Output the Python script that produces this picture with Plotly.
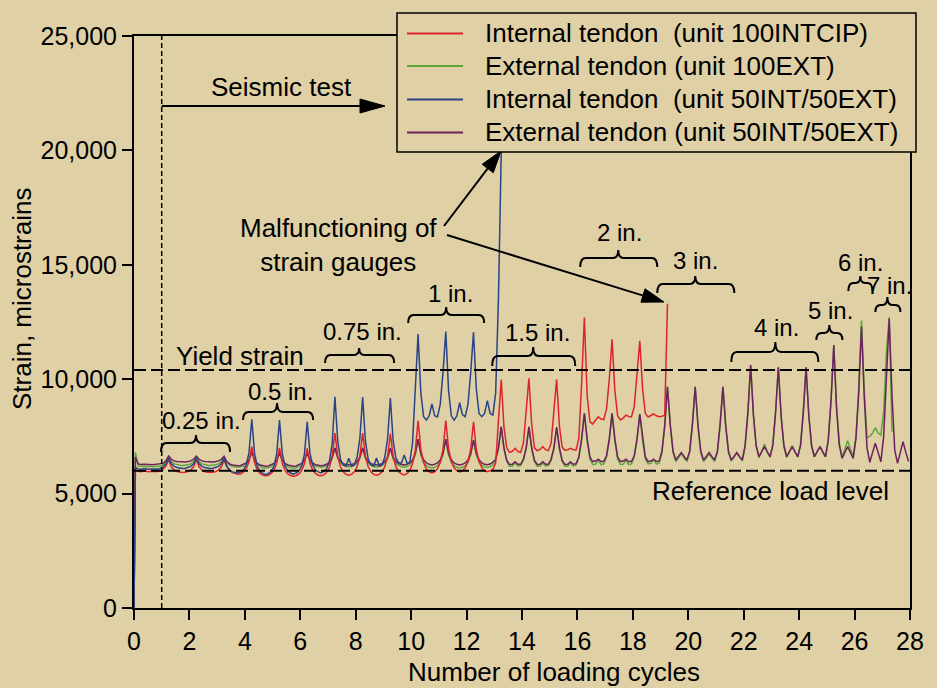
import math
import plotly.graph_objects as go

# Sample phases inside each loading cycle (peak of each cycle at .25, reverse bump at .75)
PHASES = [0.05, 0.15, 0.25, 0.35, 0.45, 0.55, 0.65, 0.75, 0.85, 0.95]

# Strain readings (microstrains), one row per loading cycle
red_strain = [  # internal tendon, unit 100INTCIP
    [6050, 5980, 5960, 5990, 5970, 5950, 5980, 5960, 5970, 5990],
    [6070, 6200, 6470, 6170, 6030, 5960, 5930, 5920, 5930, 5960],
    [6030, 6170, 6480, 6170, 6030, 5960, 5930, 5920, 5930, 5960],
    [6030, 6160, 6460, 6180, 6010, 5920, 5870, 5850, 5870, 5950],
    [6090, 6390, 7050, 6350, 6030, 5880, 5800, 5780, 5800, 5880],
    [6020, 6330, 7000, 6320, 6010, 5860, 5790, 5760, 5780, 5860],
    [6000, 6310, 6980, 6320, 6020, 5880, 5800, 5780, 5820, 5930],
    [6150, 6620, 7650, 6630, 6170, 5950, 5840, 5800, 5840, 5950],
    [6170, 6630, 7650, 6630, 6170, 5950, 5840, 5800, 5840, 5950],
    [6170, 6630, 7620, 6630, 6180, 5960, 5860, 5820, 5870, 6010],
    [6290, 6890, 8190, 6930, 6360, 6080, 5950, 5900, 5950, 6080],
    [6360, 6930, 8190, 6960, 6400, 6130, 6000, 5950, 5990, 6130],
    [6390, 6940, 8140, 6940, 6400, 6130, 6000, 5960, 6000, 6050],
    [6350, 8300, 9990, 7900, 7000, 6800, 6850, 6980, 6850, 6800],
    [7200, 8600, 10040, 8000, 7000, 6870, 6930, 7050, 6920, 6880],
    [7200, 8600, 9990, 7950, 7020, 6900, 6920, 6980, 6920, 6900],
    [7400, 9800, 12700, 9300, 8150, 8040, 8200, 8360, 8260, 8230],
    [8700, 10000, 11740, 9500, 8400, 8220, 8300, 8430, 8370, 8350],
    [8800, 10100, 11680, 9600, 8500, 8350, 8400, 8480, 8400, 8360],
    [8380, 8430, 13300],
]

blue_strain = [  # internal tendon, unit 50INT/50EXT
    [6150, 6080, 6060, 6090, 6070, 6060, 6080, 6070, 6080, 6100],
    [6170, 6290, 6550, 6300, 6190, 6140, 6110, 6100, 6110, 6140],
    [6190, 6300, 6550, 6300, 6190, 6140, 6110, 6100, 6110, 6140],
    [6190, 6300, 6540, 6190, 6030, 5950, 5910, 5900, 5950, 6040],
    [6250, 6790, 8250, 6750, 6190, 5980, 5880, 5830, 5880, 5970],
    [6190, 6740, 8215, 6750, 6200, 5990, 5900, 5850, 5900, 5990],
    [6190, 6720, 8140, 6750, 6240, 6030, 5950, 5900, 5970, 6100],
    [6400, 7170, 9230, 7300, 6500, 6250, 6200, 6550, 6200, 6250],
    [6600, 7400, 9220, 7300, 6500, 6250, 6200, 6560, 6200, 6250],
    [6600, 7400, 9180, 7300, 6550, 6350, 6330, 6690, 6340, 6360],
    [7200, 9800, 11970, 9400, 8360, 8215, 8400, 8915, 8400, 8350],
    [8900, 10300, 12080, 9500, 8400, 8215, 8400, 8970, 8450, 8360],
    [8900, 10300, 12050, 9600, 8500, 8360, 8500, 9060, 8500, 8430],
    [9400, 13500, 19940, 26300],
]

green_strain = [  # external tendon, unit 100EXT
    [6800, 6200, 6180, 6190, 6170, 6180, 6170, 6180, 6190, 6200],
    [6260, 6370, 6600, 6400, 6300, 6260, 6240, 6230, 6240, 6260],
    [6300, 6400, 6610, 6400, 6300, 6260, 6240, 6230, 6240, 6260],
    [6300, 6400, 6590, 6350, 6240, 6190, 6160, 6150, 6160, 6200],
    [6290, 6460, 6850, 6450, 6270, 6180, 6130, 6120, 6130, 6180],
    [6260, 6440, 6820, 6440, 6260, 6180, 6130, 6120, 6130, 6180],
    [6260, 6430, 6800, 6440, 6280, 6200, 6160, 6150, 6170, 6220],
    [6320, 6530, 7000, 6540, 6330, 6230, 6180, 6160, 6180, 6230],
    [6330, 6540, 7000, 6540, 6330, 6230, 6180, 6160, 6180, 6230],
    [6330, 6530, 6980, 6520, 6310, 6220, 6170, 6150, 6180, 6250],
    [6400, 6700, 7380, 6690, 6370, 6220, 6150, 6120, 6150, 6220],
    [6370, 6690, 7380, 6690, 6370, 6220, 6150, 6120, 6150, 6220],
    [6370, 6690, 7340, 6690, 6380, 6240, 6170, 6140, 6170, 6260],
    [6450, 6950, 7920, 6950, 6400, 6200, 6200, 6350, 6200, 6220],
    [6450, 6950, 7920, 6950, 6400, 6200, 6200, 6350, 6200, 6220],
    [6450, 6950, 7900, 6950, 6400, 6200, 6200, 6350, 6200, 6250],
    [6550, 7300, 8510, 7300, 6500, 6270, 6280, 6450, 6270, 6300],
    [6600, 7300, 8510, 7300, 6500, 6270, 6280, 6450, 6270, 6300],
    [6600, 7300, 8480, 7300, 6520, 6300, 6320, 6480, 6300, 6330],
    [6800, 7900, 9670, 8000, 6800, 6400, 6550, 6750, 6550, 6400],
    [6800, 8000, 9670, 7900, 6800, 6400, 6550, 6750, 6550, 6400],
    [6800, 8000, 9670, 7900, 6800, 6420, 6580, 6780, 6580, 6420],
    [7050, 8500, 10620, 8400, 7050, 6560, 6850, 7170, 6800, 6580],
    [7150, 8550, 10520, 8350, 7050, 6580, 6830, 7100, 6800, 6600],
    [7150, 8550, 10520, 8350, 7050, 6600, 6820, 7050, 6800, 6620],
    [7350, 9050, 11490, 8800, 7200, 6610, 6950, 7310, 6950, 6640],
    [7500, 9600, 12560, 9500, 7450, 7500, 7650, 7870, 7650, 7560],
    [8600, 11200, 12700, 7700],
]

purple_strain = [  # external tendon, unit 50INT/50EXT
    [6600, 6300, 6270, 6280, 6260, 6270, 6260, 6270, 6280, 6300],
    [6320, 6430, 6640, 6500, 6430, 6400, 6385, 6380, 6385, 6400],
    [6430, 6500, 6640, 6500, 6430, 6400, 6385, 6380, 6385, 6400],
    [6430, 6500, 6630, 6400, 6300, 6250, 6230, 6220, 6230, 6270],
    [6340, 6470, 6800, 6470, 6320, 6250, 6210, 6200, 6210, 6250],
    [6320, 6460, 6780, 6460, 6320, 6250, 6210, 6200, 6210, 6250],
    [6320, 6460, 6770, 6470, 6330, 6260, 6230, 6220, 6240, 6280],
    [6380, 6570, 7000, 6590, 6400, 6310, 6270, 6250, 6270, 6310],
    [6400, 6590, 7000, 6590, 6400, 6310, 6270, 6250, 6270, 6310],
    [6400, 6590, 6980, 6580, 6400, 6310, 6270, 6250, 6280, 6350],
    [6470, 6750, 7380, 6760, 6480, 6340, 6280, 6250, 6280, 6340],
    [6470, 6760, 7380, 6760, 6480, 6340, 6280, 6250, 6280, 6340],
    [6470, 6760, 7340, 6750, 6480, 6340, 6280, 6260, 6290, 6370],
    [6500, 7000, 7920, 7000, 6450, 6270, 6280, 6390, 6280, 6280],
    [6500, 7000, 7920, 7000, 6450, 6270, 6280, 6390, 6280, 6280],
    [6500, 7000, 7900, 7000, 6450, 6270, 6280, 6390, 6280, 6300],
    [6600, 7400, 8510, 7400, 6600, 6400, 6420, 6500, 6400, 6400],
    [6650, 7400, 8510, 7400, 6600, 6400, 6420, 6500, 6400, 6400],
    [6650, 7400, 8480, 7400, 6600, 6400, 6420, 6500, 6400, 6420],
    [6850, 8000, 9670, 8000, 6850, 6470, 6620, 6790, 6620, 6470],
    [6850, 8050, 9670, 8000, 6850, 6470, 6620, 6790, 6620, 6470],
    [6850, 8050, 9670, 8000, 6850, 6470, 6620, 6790, 6620, 6480],
    [7100, 8550, 10620, 8450, 7100, 6610, 6830, 7050, 6830, 6610],
    [7100, 8550, 10520, 8400, 7100, 6610, 6830, 7050, 6830, 6610],
    [7100, 8550, 10520, 8400, 7100, 6610, 6830, 7050, 6830, 6600],
    [7300, 9050, 11490, 8700, 7100, 6540, 6800, 7050, 6800, 6540],
    [7400, 9400, 12300, 9200, 7000, 6370, 6800, 7200, 6800, 6390],
    [7500, 10000, 12650, 9300, 6900, 6320, 6800, 7270, 6800, 6400],
]

series_names = [
    "Internal tendon\u00a0 (unit 100INTCIP)",
    "External tendon (unit 100EXT)",
    "Internal tendon\u00a0 (unit 50INT/50EXT)",
    "External tendon (unit 50INT/50EXT)",
]
series_data = [red_strain, green_strain, blue_strain, purple_strain]
series_colors = ["#E0232B", "#5EA83B", "#2A4388", "#6E215F"]

yield_strain = 10400
reference_load = 6000
seismic_start = 1

amplitude_labels = ["0.25 in.", "0.5 in.", "0.75 in.", "1 in.", "1.5 in.", "2 in.",
                    "3 in.", "4 in.", "5 in.", "6 in.", "7 in."]

BG = "#DFD0A5"
FONT = "Liberation Sans, Arial, Helvetica, sans-serif"

# plot-area geometry (px) used to size the annotation graphics
PLOT_W, PLOT_H = 776, 572
X_MAX, Y_MAX = 28, 25000
PX_X, PX_Y = PLOT_W / X_MAX, PLOT_H / Y_MAX


def to_xy(rows):
    xs, ys = [0.0], [0]
    for n, row in enumerate(rows):
        for p, v in zip(PHASES, row):
            xs.append(round(n + p, 2))
            ys.append(v)
    return xs, ys


fig = go.Figure()
draw_order = [1, 3, 0, 2]
for i in draw_order:
    xs, ys = to_xy(series_data[i])
    fig.add_trace(go.Scatter(x=xs, y=ys, mode="lines", name=series_names[i],
                             line=dict(color=series_colors[i], width=1.5),
                             showlegend=False))

shapes = []
annotations = []

# reference levels
for lvl in (yield_strain, reference_load):
    shapes.append(dict(type="line", xref="x", yref="y", x0=0, x1=X_MAX, y0=lvl, y1=lvl,
                       line=dict(color="black", width=2, dash="12px,5px"), layer="above"))
shapes.append(dict(type="line", xref="x", yref="y", x0=seismic_start, x1=seismic_start,
                   y0=0, y1=Y_MAX, line=dict(color="black", width=1.5, dash="5px,3px")))


def add_arrow(tail, tip, head_len=24, head_half=7):
    tx, ty = tail[0] * PX_X, tail[1] * PX_Y
    hx, hy = tip[0] * PX_X, tip[1] * PX_Y
    dx, dy = hx - tx, hy - ty
    d = math.hypot(dx, dy)
    ux, uy = dx / d, dy / d
    bx, by = hx - head_len * ux, hy - head_len * uy
    nx, ny = -uy, ux
    p1 = ((bx + head_half * nx) / PX_X, (by + head_half * ny) / PX_Y)
    p2 = ((bx - head_half * nx) / PX_X, (by - head_half * ny) / PX_Y)
    sx, sy = (bx + 2 * ux) / PX_X, (by + 2 * uy) / PX_Y
    shapes.append(dict(type="line", xref="x", yref="y", x0=tail[0], y0=tail[1], x1=sx, y1=sy,
                       line=dict(color="black", width=2), layer="above"))
    shapes.append(dict(type="path", xref="x", yref="y",
                       path=f"M{tip[0]},{tip[1]} L{p1[0]},{p1[1]} L{p2[0]},{p2[1]} Z",
                       fillcolor="black", line=dict(color="black", width=1), layer="above"))


add_arrow((1.0, 21940), (9.057, 21940), head_len=25)
add_arrow((11.186, 16696), (13.242, 19974), head_len=22)
add_arrow((11.294, 16302), (19.124, 13374), head_len=22)


# braces over each group of cycles: (left, right, centre, line level, end level, tip level)
brace_geom = [
    (0.975, 3.466, 2.238, 7210, 6817, 7560),
    (3.935, 6.462, 5.162, 8565, 8216, 8958),
    (6.895, 9.386, 8.123, 11056, 10707, 11362),
    (9.892, 12.635, 11.264, 12804, 12455, 13154),
    (12.924, 15.921, 14.404, 11012, 10575, 11406),
    (16.101, 18.881, 17.473, 15295, 14902, 15645),
    (18.881, 21.661, 20.253, 14159, 13766, 14508),
    (21.552, 24.693, 23.141, 11187, 10750, 11624),
    (24.621, 25.560, 25.090, 12018, 11712, 12367),
    (25.776, 26.643, 26.209, 14203, 13853, 14508),
    (26.751, 27.653, 27.184, 13241, 12935, 13591),
]
label_pos = [(2.42, 8216), (5.27, 9483), (8.23, 12105), (11.41, 13766), (14.57, 12061),
             (17.51, 16431), (20.25, 15208), (23.18, 12280), (25.13, 13023), (26.21, 15120),
             (27.26, 14115)]

for (t0, t1, tm, vl, ve, vt), text, (lx, ly) in zip(brace_geom, amplitude_labels, label_pos):
    r = min(0.2, (t1 - t0) / 5)
    path = (f"M{t0},{ve} Q{t0},{vl} {t0 + r},{vl} L{tm - r},{vl} "
            f"Q{tm},{vl} {tm},{vt} Q{tm},{vl} {tm + r},{vl} "
            f"L{t1 - r},{vl} Q{t1},{vl} {t1},{ve}")
    shapes.append(dict(type="path", xref="x", yref="y", path=path,
                       line=dict(color="black", width=2), layer="above"))
    annotations.append(dict(x=lx, y=ly, xref="x", yref="y", text=text, showarrow=False,
                            xanchor="center", yanchor="middle",
                            font=dict(size=24, color="black", family=FONT)))

for text, x, y in [("Seismic test", 5.34, 22771),
                   ("Yield strain", 3.825, 11014),
                   ("Reference load level", 22.98, 5114),
                   ("Malfunctioning of<br>strain gauges", 7.38, 15844)]:
    annotations.append(dict(x=x, y=y, xref="x", yref="y", text=text, showarrow=False,
                            xanchor="center", yanchor="middle",
                            font=dict(size=26, color="black", family=FONT)))

# legend box
shapes.append(dict(type="rect", xref="paper", yref="paper", x0=0.3389, x1=1.0077,
                   y0=0.7972, y1=1.0402, fillcolor=BG, line=dict(color="black", width=1.5),
                   layer="above"))
legend_rows = [1.0044, 0.9476, 0.889, 0.8313]
for name, color, ry in zip(series_names, series_colors, legend_rows):
    shapes.append(dict(type="line", xref="paper", yref="paper", x0=0.3518, x1=0.424,
                       y0=ry, y1=ry, line=dict(color=color, width=2), layer="above"))
    annotations.append(dict(x=0.4491, y=ry, xref="paper", yref="paper", text=name,
                            xanchor="left", yanchor="middle", showarrow=False,
                            font=dict(size=26, color="black", family=FONT)))

# axis titles
annotations.append(dict(x=-0.1443, y=0.5402, xref="paper", yref="paper",
                        text="Strain, microstrains", textangle=-90, showarrow=False,
                        xanchor="center", yanchor="middle",
                        font=dict(size=26, color="black", family=FONT)))
annotations.append(dict(x=0.5406, y=-0.1119, xref="paper", yref="paper",
                        text="Number of loading cycles", showarrow=False,
                        xanchor="center", yanchor="middle",
                        font=dict(size=26, color="black", family=FONT)))

axis_common = dict(showline=True, linewidth=2, linecolor="black", mirror=True,
                   ticks="outside", ticklen=10, tickwidth=2, tickcolor="black",
                   showgrid=False, zeroline=False,
                   tickfont=dict(size=25, color="black", family=FONT))

fig.update_layout(
    width=937, height=688,
    margin=dict(l=134, r=27, t=36, b=80),
    paper_bgcolor=BG, plot_bgcolor=BG,
    font=dict(family=FONT, color="black"),
    showlegend=False,
    xaxis=dict(range=[0, X_MAX], tickvals=list(range(0, 29, 2)), **axis_common),
    yaxis=dict(range=[0, Y_MAX], tickvals=list(range(0, 25001, 5000)),
               tickformat=",d", **axis_common),
    shapes=shapes,
    annotations=annotations,
)

fig.write_html("out.html")
